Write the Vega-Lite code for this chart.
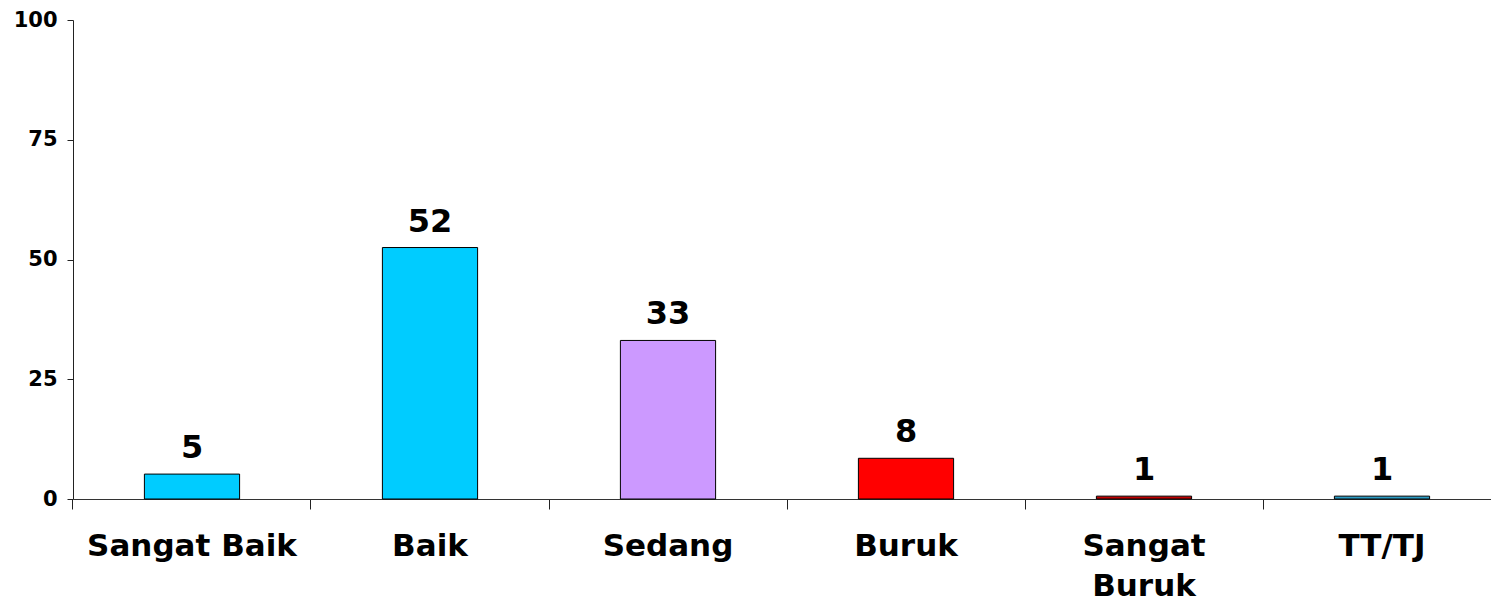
{
  "$schema": "https://vega.github.io/schema/vega-lite/v6.json",
  "width": 1428,
  "height": 479,
  "autosize": {"type": "none"},
  "padding": {"left": 73, "top": 20, "right": 0, "bottom": 102},
  "background": "white",
  "config": {"view": {"stroke": null}, "font": "DejaVu Sans"},
  "data": {
    "values": [
      {"kategori": "Sangat Baik", "nilai": 5.2, "label": "5", "warna": "#00CCFF"},
      {"kategori": "Baik", "nilai": 52.5, "label": "52", "warna": "#00CCFF"},
      {"kategori": "Sedang", "nilai": 33.1, "label": "33", "warna": "#CC99FF"},
      {"kategori": "Buruk", "nilai": 8.5, "label": "8", "warna": "#FF0000"},
      {"kategori": "Sangat Buruk", "nilai": 0.6, "label": "1", "warna": "#C00000"},
      {"kategori": "TT/TJ", "nilai": 0.6, "label": "1", "warna": "#2A9CC4"}
    ]
  },
  "encoding": {
    "x": {
      "field": "kategori",
      "type": "nominal",
      "sort": null,
      "scale": {"paddingInner": 0.6, "paddingOuter": 0.3},
      "axis": {
        "title": null,
        "labelAngle": 0,
        "labelFont": "DejaVu Sans",
        "labelFontWeight": "bold",
        "labelFontSize": 31,
        "labelColor": "black",
        "labelPadding": 22,
        "labelLineHeight": 40,
        "labelLimit": 500,
        "labelOverlap": false,
        "labelExpr": "datum.value == 'Sangat Buruk' ? ['Sangat', 'Buruk'] : datum.value",
        "bandPosition": -0.75,
        "tickSize": 10,
        "tickColor": "#222",
        "domainColor": "#333",
        "grid": false
      }
    },
    "y": {
      "field": "nilai",
      "type": "quantitative",
      "scale": {"domain": [0, 100], "nice": false},
      "axis": {
        "title": null,
        "values": [0, 25, 50, 75, 100],
        "labelFont": "DejaVu Sans",
        "labelFontWeight": "bold",
        "labelFontSize": 21,
        "labelColor": "black",
        "labelPadding": 10,
        "tickSize": 6,
        "tickColor": "#222",
        "domainColor": "#222",
        "grid": false
      }
    }
  },
  "layer": [
    {
      "mark": {"type": "bar", "stroke": "black", "strokeWidth": 1},
      "encoding": {
        "color": {"field": "warna", "type": "nominal", "scale": null}
      }
    },
    {
      "mark": {
        "type": "text",
        "font": "DejaVu Sans",
        "fontWeight": "bold",
        "fontSize": 32,
        "baseline": "alphabetic",
        "dy": -16,
        "color": "black"
      },
      "encoding": {
        "text": {"field": "label"}
      }
    }
  ]
}
